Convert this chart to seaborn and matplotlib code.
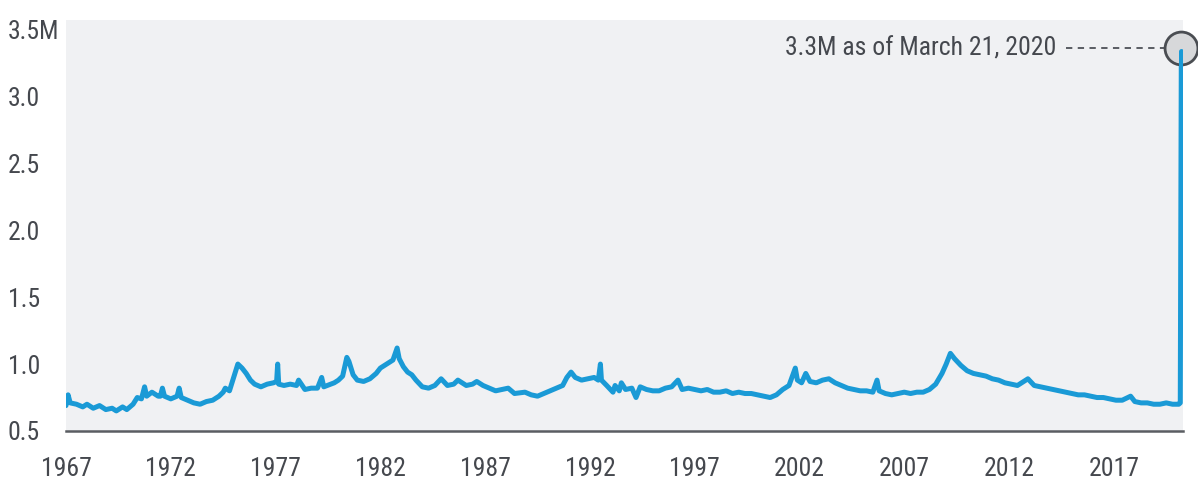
import matplotlib
matplotlib.use("Agg")
import matplotlib.pyplot as plt
import seaborn as sns
import pandas as pd

# ---- data (millions of claims) ----
years = [
    1967.0, 1967.1, 1967.2, 1967.5, 1967.8, 1968.0, 1968.3, 1968.6, 1968.9,
    1969.2, 1969.4, 1969.7, 1969.9, 1970.2, 1970.4, 1970.6, 1970.75, 1970.85,
    1971.1, 1971.4, 1971.5, 1971.6, 1971.7, 1972.0, 1972.3, 1972.4, 1972.5,
    1972.8, 1973.1, 1973.4, 1973.7, 1974.0, 1974.3, 1974.5, 1974.6, 1974.8,
    1975.0, 1975.2, 1975.4, 1975.6, 1975.8, 1976.0, 1976.3, 1976.6, 1976.9,
    1977.05, 1977.1, 1977.15, 1977.4, 1977.7, 1978.0, 1978.1, 1978.4, 1978.7,
    1979.0, 1979.2, 1979.3, 1979.8, 1980.0, 1980.2, 1980.4, 1980.5, 1980.7,
    1980.9, 1981.2, 1981.5, 1981.8, 1982.0, 1982.3, 1982.6, 1982.8, 1982.9,
    1983.1, 1983.3, 1983.5, 1983.7, 1984.0, 1984.3, 1984.6, 1984.9, 1985.2,
    1985.5, 1985.7, 1986.1, 1986.4, 1986.6, 1986.9, 1987.2, 1987.5, 1987.8,
    1988.1, 1988.4, 1988.9, 1989.2, 1989.5, 1989.8, 1990.1, 1990.4, 1990.7,
    1990.9, 1991.1, 1991.3, 1991.6, 1991.9, 1992.2, 1992.4, 1992.5, 1992.55,
    1992.8, 1993.1, 1993.2, 1993.4, 1993.5, 1993.7, 1994.0, 1994.2, 1994.4,
    1994.7, 1995.0, 1995.3, 1995.6, 1995.9, 1996.2, 1996.4, 1996.7, 1997.0,
    1997.3, 1997.6, 1997.9, 1998.2, 1998.5, 1998.8, 1999.1, 1999.4, 1999.7,
    2000.0, 2000.3, 2000.6, 2000.9, 2001.2, 2001.5, 2001.8, 2001.9, 2002.1,
    2002.3, 2002.5, 2002.8, 2003.1, 2003.4, 2003.7, 2004.0, 2004.3, 2004.6,
    2004.9, 2005.2, 2005.5, 2005.7, 2005.8, 2006.1, 2006.4, 2006.7, 2007.0,
    2007.3, 2007.6, 2007.9, 2008.2, 2008.5, 2008.8, 2009.0, 2009.2, 2009.4,
    2009.7, 2010.0, 2010.3, 2010.6, 2010.9, 2011.2, 2011.5, 2011.8, 2012.1,
    2012.4, 2012.9, 2013.2, 2013.5, 2013.8, 2014.1, 2014.4, 2014.7, 2015.0,
    2015.3, 2015.6, 2015.9, 2016.2, 2016.5, 2016.8, 2017.1, 2017.4, 2017.8,
    2018.0, 2018.3, 2018.6, 2018.9, 2019.2, 2019.5, 2019.8, 2020.1, 2020.17,
    2020.22,
]
claims = [
    0.69, 0.77, 0.71, 0.70, 0.68, 0.70, 0.67, 0.69, 0.66,
    0.67, 0.65, 0.68, 0.66, 0.70, 0.75, 0.74, 0.83, 0.76,
    0.79, 0.76, 0.76, 0.82, 0.76, 0.74, 0.76, 0.82, 0.75,
    0.73, 0.71, 0.70, 0.72, 0.73, 0.76, 0.79, 0.82, 0.80,
    0.90, 1.00, 0.97, 0.93, 0.88, 0.85, 0.83, 0.85, 0.86,
    0.87, 1.00, 0.85, 0.84, 0.85, 0.84, 0.88, 0.81, 0.82,
    0.82, 0.90, 0.83, 0.86, 0.88, 0.91, 1.05, 1.02, 0.92,
    0.88, 0.87, 0.89, 0.93, 0.97, 1.00, 1.03, 1.12, 1.04,
    0.98, 0.94, 0.92, 0.88, 0.83, 0.82, 0.84, 0.89, 0.84,
    0.85, 0.88, 0.84, 0.85, 0.87, 0.84, 0.82, 0.80, 0.81,
    0.82, 0.78, 0.79, 0.77, 0.76, 0.78, 0.80, 0.82, 0.84,
    0.90, 0.94, 0.90, 0.88, 0.89, 0.90, 0.88, 1.00, 0.88,
    0.84, 0.79, 0.84, 0.80, 0.86, 0.81, 0.82, 0.75, 0.83,
    0.81, 0.80, 0.80, 0.82, 0.83, 0.88, 0.81, 0.82, 0.81,
    0.80, 0.81, 0.79, 0.79, 0.80, 0.78, 0.79, 0.78, 0.78,
    0.77, 0.76, 0.75, 0.77, 0.81, 0.84, 0.97, 0.88, 0.86,
    0.93, 0.87, 0.86, 0.88, 0.89, 0.86, 0.84, 0.82, 0.81,
    0.80, 0.80, 0.79, 0.88, 0.80, 0.78, 0.77, 0.78, 0.79,
    0.78, 0.79, 0.79, 0.81, 0.85, 0.93, 1.00, 1.08, 1.04,
    0.99, 0.95, 0.93, 0.92, 0.91, 0.89, 0.88, 0.86, 0.85,
    0.84, 0.89, 0.84, 0.83, 0.82, 0.81, 0.80, 0.79, 0.78,
    0.77, 0.77, 0.76, 0.75, 0.75, 0.74, 0.73, 0.73, 0.76,
    0.72, 0.71, 0.71, 0.70, 0.70, 0.71, 0.70, 0.70, 0.71,
    3.36,
]
x_tick_years = [1967, 1972, 1977, 1982, 1987, 1992, 1997, 2002, 2007, 2012, 2017]
y_tick_values = [0.5, 1.0, 1.5, 2.0, 2.5, 3.0, 3.5]
y_tick_labels = ["0.5", "1.0", "1.5", "2.0", "2.5", "3.0", "3.5M"]
annotation_text = "3.3M as of March 21, 2020"
latest_year = 2020.22
latest_value = 3.36

df = pd.DataFrame({"year": years, "claims": claims})

sns.set_theme(style="white")
plt.rcParams["font.family"] = ["Roboto Condensed", "Liberation Sans Narrow",
                               "Roboto", "DejaVu Sans"]

W, H = 1198, 483
fig = plt.figure(figsize=(W / 100, H / 100), dpi=100)
ax = fig.add_axes([66 / W, (H - 431) / H, (1183 - 66) / W, (431 - 20) / H])
ax.set_facecolor("#F0F1F3")

line_color = "#1A9AD6"
text_color = "#45484E"
fs = 18.5

sns.lineplot(data=df, x="year", y="claims", ax=ax, color=line_color,
             linewidth=3.6, solid_joinstyle="round", solid_capstyle="round")

ax.set_xlim(1967.0, 2020.3)
ax.set_ylim(0.5, 3.57)

ax.set_xticks(x_tick_years)
ax.set_xticklabels([str(y) for y in x_tick_years])
ax.set_yticks(y_tick_values)
ax.set_yticklabels(y_tick_labels)
for lbl in ax.get_yticklabels():
    lbl.set_horizontalalignment("left")
ax.tick_params(axis="y", length=0, pad=42, labelsize=fs, labelcolor=text_color)
ax.tick_params(axis="x", length=0, pad=19, labelsize=fs, labelcolor=text_color)
ax.set_xlabel("")
ax.set_ylabel("")

for s in ["top", "right", "left"]:
    ax.spines[s].set_visible(False)
ax.spines["bottom"].set_color("#5A5D62")
ax.spines["bottom"].set_linewidth(1.8)

# annotation: dashed leader, circle at latest point, label
ax.plot([2014.7, 2019.6], [latest_value, latest_value], color="#4E5157",
        linewidth=1.3, linestyle=(0, (3.5, 3.0)), zorder=3)
ax.scatter([latest_year], [latest_value], s=560,
           facecolor="#D7D8DA", edgecolor="#4A4D52", linewidth=2.0,
           zorder=4, clip_on=False)
ax.plot([latest_year, latest_year], [latest_value - 0.02, latest_value - 0.30],
        color=line_color, linewidth=3.6, zorder=5, solid_capstyle="round")
ax.text(2014.25, latest_value, annotation_text, ha="right", va="center",
        fontsize=fs, color=text_color, zorder=5)

fig.savefig("out.png", dpi=100, facecolor="white")
